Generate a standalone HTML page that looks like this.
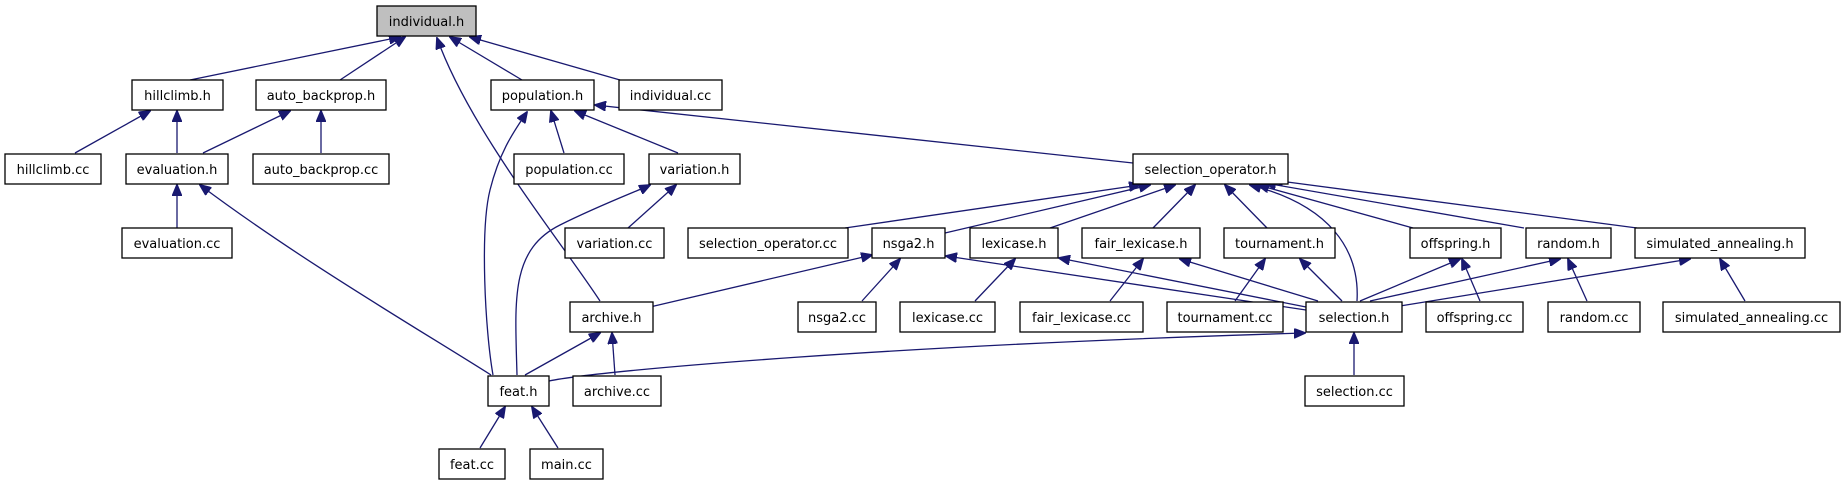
<!DOCTYPE html>
<html><head><meta charset="utf-8"><style>
html,body{margin:0;padding:0;background:#fff;}
svg{display:block;}
text{font-family:"DejaVu Sans","Liberation Sans",sans-serif;font-size:13px;fill:#000;text-anchor:middle;}
rect{fill:#fff;stroke:#000;stroke-width:1.3;}
path,line{stroke:#191970;stroke-width:1.3;fill:none;}
</style></head><body>
<svg width="1844" height="485" viewBox="0 0 1844 485" xmlns="http://www.w3.org/2000/svg">
<defs><marker id="a" markerWidth="12" markerHeight="10" refX="11" refY="5" orient="auto" markerUnits="userSpaceOnUse"><path d="M0,0 L12,5 L0,10 Z" style="fill:#191970;stroke:#191970;stroke-width:1"/></marker></defs>
<g marker-end="url(#a)">
<line x1="190" y1="80" x2="400" y2="37"/>
<line x1="340" y1="80" x2="405" y2="37"/>
<line x1="522" y1="80" x2="450" y2="37"/>
<line x1="620" y1="80" x2="470" y2="37"/>
<path d="M600,301 C560,240 470,130 437,38"/>
<line x1="75" y1="153" x2="150" y2="111"/>
<line x1="177" y1="153" x2="177" y2="111"/>
<line x1="203" y1="153" x2="290" y2="111"/>
<line x1="321" y1="153" x2="321" y2="111"/>
<line x1="564" y1="153" x2="551" y2="111"/>
<line x1="678" y1="153" x2="575" y2="111"/>
<line x1="1133" y1="163" x2="595" y2="105"/>
<path d="M493,375 C485,330 480,230 490,190 C500,150 515,130 527,112"/>
<line x1="177" y1="228" x2="177" y2="185"/>
<path d="M491,375 C420,330 300,260 200,185"/>
<line x1="628" y1="228" x2="676" y2="185"/>
<path d="M517,375 C515,300 510,250 560,225 C600,205 640,190 650,185"/>
<line x1="845" y1="228" x2="1140" y2="185"/>
<line x1="945" y1="233" x2="1150" y2="185"/>
<line x1="1050" y1="228" x2="1175" y2="185"/>
<line x1="1153" y1="228" x2="1195" y2="185"/>
<line x1="1267" y1="228" x2="1225" y2="185"/>
<line x1="1413" y1="228" x2="1258" y2="185"/>
<line x1="1524" y1="228" x2="1265" y2="183"/>
<line x1="1637" y1="228" x2="1272" y2="180"/>
<path d="M1357,301 C1360,250 1330,205 1250,185"/>
<line x1="650" y1="307" x2="872" y2="255"/>
<line x1="862" y1="301" x2="900" y2="259"/>
<line x1="1306" y1="310" x2="946" y2="256"/>
<line x1="975" y1="301" x2="1015" y2="259"/>
<line x1="1306" y1="307" x2="1059" y2="258"/>
<line x1="1110" y1="301" x2="1143" y2="259"/>
<line x1="1318" y1="301" x2="1180" y2="259"/>
<line x1="1235" y1="301" x2="1265" y2="259"/>
<line x1="1342" y1="301" x2="1300" y2="259"/>
<line x1="1360" y1="301" x2="1460" y2="259"/>
<line x1="1480" y1="301" x2="1462" y2="259"/>
<line x1="1370" y1="301" x2="1560" y2="259"/>
<line x1="1587" y1="301" x2="1568" y2="259"/>
<line x1="1400" y1="306" x2="1690" y2="259"/>
<line x1="1745" y1="301" x2="1720" y2="259"/>
<line x1="525" y1="375" x2="600" y2="333"/>
<line x1="615" y1="375" x2="612" y2="333"/>
<path d="M549,381 C600,370 900,345 1305,333"/>
<line x1="1354" y1="375" x2="1354" y2="333"/>
<line x1="480" y1="448" x2="505" y2="407"/>
<line x1="558" y1="448" x2="532" y2="407"/>
</g>
<g>
<rect x="377" y="6" width="99" height="30" style="fill:#bfbfbf"/><text x="426.5" y="26">individual.h</text>
<rect x="132" y="80" width="91" height="30"/><text x="177.5" y="100">hillclimb.h</text>
<rect x="256" y="80" width="130" height="30"/><text x="321" y="100">auto_backprop.h</text>
<rect x="491" y="80" width="103" height="30"/><text x="542.5" y="100">population.h</text>
<rect x="619" y="80" width="103" height="30"/><text x="670.5" y="100">individual.cc</text>
<rect x="5" y="154" width="96" height="30"/><text x="53" y="174">hillclimb.cc</text>
<rect x="126" y="154" width="102" height="30"/><text x="177" y="174">evaluation.h</text>
<rect x="253" y="154" width="136" height="30"/><text x="321" y="174">auto_backprop.cc</text>
<rect x="514" y="154" width="110" height="30"/><text x="569" y="174">population.cc</text>
<rect x="649" y="154" width="91" height="30"/><text x="694.5" y="174">variation.h</text>
<rect x="1133" y="154" width="155" height="30"/><text x="1210.5" y="174">selection_operator.h</text>
<rect x="122" y="228" width="110" height="30"/><text x="177" y="248">evaluation.cc</text>
<rect x="565" y="228" width="99" height="30"/><text x="614.5" y="248">variation.cc</text>
<rect x="688" y="228" width="160" height="30"/><text x="768" y="248">selection_operator.cc</text>
<rect x="872" y="228" width="73" height="30"/><text x="908.5" y="248">nsga2.h</text>
<rect x="970" y="228" width="88" height="30"/><text x="1014" y="248">lexicase.h</text>
<rect x="1082" y="228" width="118" height="30"/><text x="1141" y="248">fair_lexicase.h</text>
<rect x="1224" y="228" width="111" height="30"/><text x="1279.5" y="248">tournament.h</text>
<rect x="1410" y="228" width="91" height="30"/><text x="1455.5" y="248">offspring.h</text>
<rect x="1526" y="228" width="85" height="30"/><text x="1568.5" y="248">random.h</text>
<rect x="1635" y="228" width="170" height="30"/><text x="1720" y="248">simulated_annealing.h</text>
<rect x="570" y="302" width="83" height="30"/><text x="611.5" y="322">archive.h</text>
<rect x="798" y="302" width="78" height="30"/><text x="837" y="322">nsga2.cc</text>
<rect x="900" y="302" width="95" height="30"/><text x="947.5" y="322">lexicase.cc</text>
<rect x="1020" y="302" width="123" height="30"/><text x="1081.5" y="322">fair_lexicase.cc</text>
<rect x="1167" y="302" width="116" height="30"/><text x="1225" y="322">tournament.cc</text>
<rect x="1306" y="302" width="96" height="30"/><text x="1354" y="322">selection.h</text>
<rect x="1426" y="302" width="97" height="30"/><text x="1474.5" y="322">offspring.cc</text>
<rect x="1548" y="302" width="92" height="30"/><text x="1594" y="322">random.cc</text>
<rect x="1663" y="302" width="177" height="30"/><text x="1751.5" y="322">simulated_annealing.cc</text>
<rect x="488" y="376" width="61" height="30"/><text x="518.5" y="396">feat.h</text>
<rect x="573" y="376" width="88" height="30"/><text x="617" y="396">archive.cc</text>
<rect x="1305" y="376" width="99" height="30"/><text x="1354.5" y="396">selection.cc</text>
<rect x="439" y="449" width="66" height="30"/><text x="472" y="469">feat.cc</text>
<rect x="530" y="449" width="73" height="30"/><text x="566.5" y="469">main.cc</text>
</g>
</svg>
</body></html>
